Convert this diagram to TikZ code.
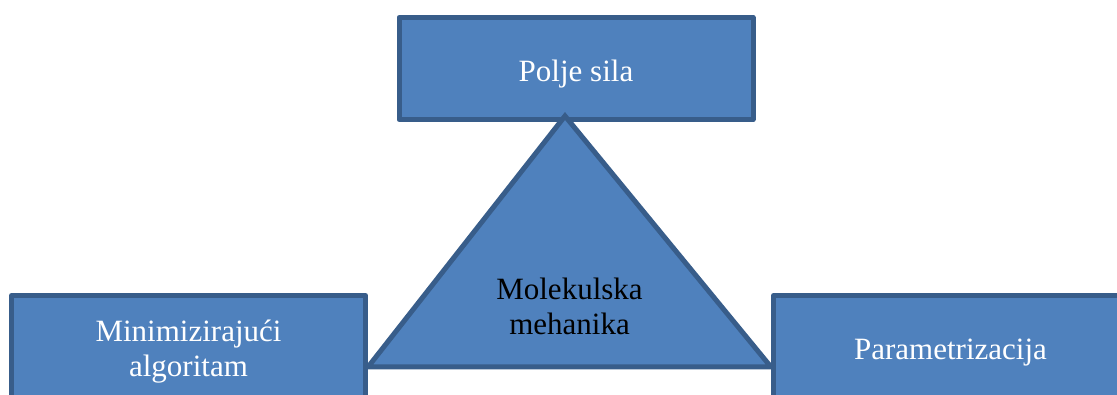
\documentclass[tikz,border=0pt]{standalone}
\usepackage{fontspec}
\setmainfont{Liberation Serif}
\definecolor{boxfill}{HTML}{4F81BD}
\definecolor{boxline}{HTML}{385D8A}
\begin{document}
\begin{tikzpicture}[x=1pt,y=-1pt,
  box/.style={draw=boxline, fill=boxfill, line width=5pt, line join=round, rectangle,
    minimum width=354pt, minimum height=102pt, inner sep=0pt, outer sep=0pt},
  lbl/.style={font=\fontsize{31}{35.5}\selectfont, align=center, inner sep=0pt, anchor=base},
  tri/.style={draw=boxline, fill=boxfill, line width=5pt, line join=miter}]
  \useasboundingbox (0,0) rectangle (1117,395);
  \clip (0,0) rectangle (1117,395);
  % top box
  \node[box] (top) at (576,68.5) {};
  \node[lbl, text=white] (ttop) at (576,82) {Polje sila};
  % triangle
  \coordinate (apex) at (565,116);
  \coordinate (bl) at (368,367);
  \coordinate (br) at (771,367);
  \draw[tri] (apex) -- (bl) -- (br) -- cycle;
  \node[lbl, text=black] (ttri) at (569.5,335) {Molekulska\\mehanika};
  % side boxes
  \node[box] (left) at (188.5,346.5) {};
  \node[lbl, text=white] (tleft) at (188.5,377) {Minimizirajući\\algoritam};
  \node[box] (right) at (950.5,346.5) {};
  \node[lbl, text=white] (tright) at (950.5,360) {Parametrizacija};
\end{tikzpicture}
\end{document}
